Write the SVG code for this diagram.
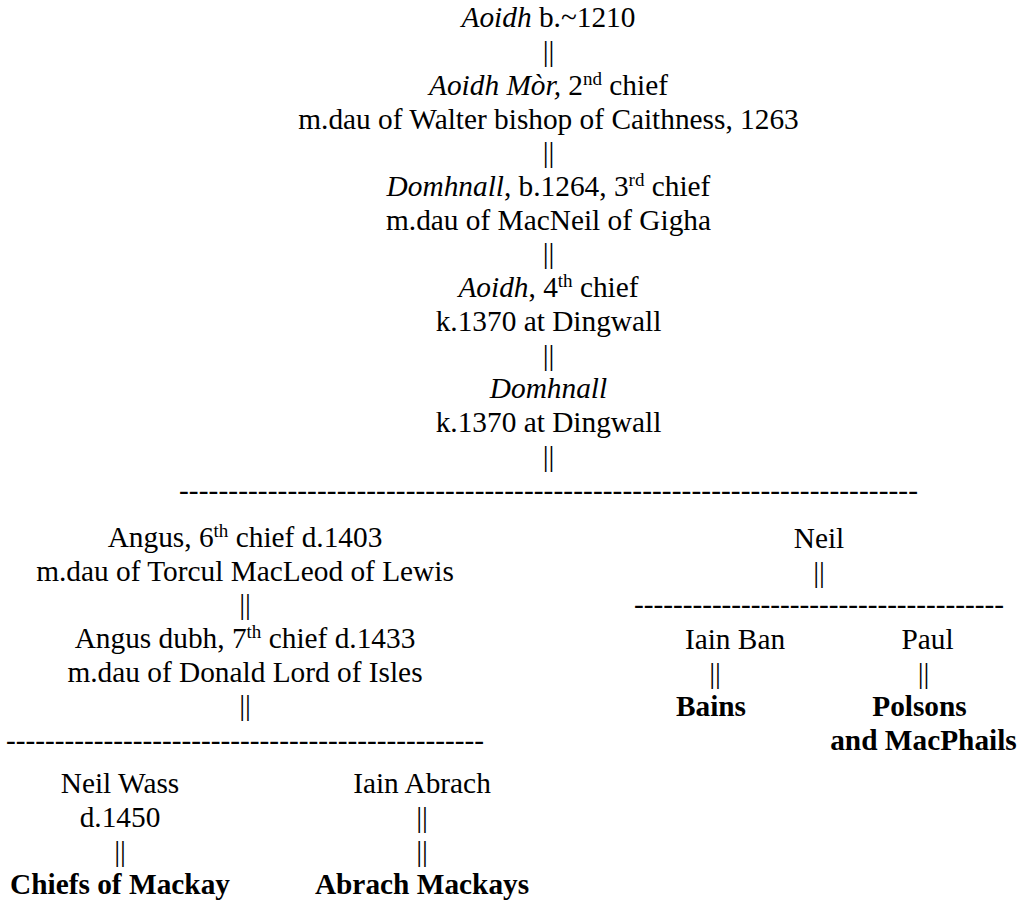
<svg xmlns="http://www.w3.org/2000/svg" width="1026" height="901" viewBox="0 0 1026 901">
<style>
text{font-family:'Liberation Serif','Times New Roman',Times,'DejaVu Serif',serif;font-size:29.33px;fill:#000;}
.c{text-anchor:middle;}
.i{font-style:italic;}
.b{font-weight:bold;}
.sup{font-size:19px;}
.dash{text-anchor:start;}
</style>
<rect width="1026" height="901" fill="#fff"/>
<g id="connectors" font-family="Liberation Serif, serif">
<text class="c" x="548.5" y="61">||</text>
<text class="c" x="548.5" y="162.2">||</text>
<text class="c" x="548.5" y="263.4">||</text>
<text class="c" x="548.5" y="364.6">||</text>
<text class="c" x="548.5" y="465.8">||</text>
<text class="dash" x="179" y="499.5" textLength="739" lengthAdjust="spacing">---------------------------------------------------------------------------</text>
<text class="c" x="245" y="614">||</text>
<text class="c" x="245" y="715.4">||</text>
<text class="dash" x="6" y="749.5" textLength="478" lengthAdjust="spacing">-------------------------------------------------</text>
<text class="c" x="120" y="861">||</text>
<text class="c" x="422" y="827">||</text>
<text class="c" x="422" y="861">||</text>
<text class="c" x="819" y="582">||</text>
<text class="dash" x="634" y="614" textLength="370" lengthAdjust="spacing">--------------------------------------</text>
<text class="c" x="715" y="683">||</text>
<text class="c" x="923.5" y="683">||</text>
</g>
<g id="aoidh1">
<text class="c" x="548.5" y="27.3"><tspan class="i">Aoidh</tspan> b.~1210</text>
</g>
<g id="aoidh-mor">
<text class="c" x="548.5" y="94.8"><tspan class="i">Aoidh Mòr,</tspan> 2<tspan class="sup" dy="-10">nd</tspan><tspan dy="10"> chief</tspan></text>
<text class="c" x="548.5" y="128.5">m.dau of Walter bishop of Caithness, 1263</text>
</g>
<g id="domhnall1">
<text class="c" x="548.5" y="195.9"><tspan class="i">Domhnall</tspan>, b.1264, 3<tspan class="sup" dy="-10">rd</tspan><tspan dy="10"> chief</tspan></text>
<text class="c" x="548.5" y="229.7">m.dau of MacNeil of Gigha</text>
</g>
<g id="aoidh4">
<text class="c" x="548.5" y="297.1"><tspan class="i">Aoidh</tspan>, 4<tspan class="sup" dy="-10">th</tspan><tspan dy="10"> chief</tspan></text>
<text class="c" x="548.5" y="330.9">k.1370 at Dingwall</text>
</g>
<g id="domhnall2">
<text class="c i" x="548.5" y="398.3">Domhnall</text>
<text class="c" x="548.5" y="432.1">k.1370 at Dingwall</text>
</g>
<g id="angus">
<text class="c" x="245" y="547">Angus, 6<tspan class="sup" dy="-10">th</tspan><tspan dy="10"> chief d.1403</tspan></text>
<text class="c" x="245" y="580.5">m.dau of Torcul MacLeod of Lewis</text>
</g>
<g id="angus-dubh">
<text class="c" x="245" y="648">Angus dubh, 7<tspan class="sup" dy="-10">th</tspan><tspan dy="10"> chief d.1433</tspan></text>
<text class="c" x="245" y="681.7">m.dau of Donald Lord of Isles</text>
</g>
<g id="neil-wass">
<text class="c" x="120" y="793">Neil Wass</text>
<text class="c" x="120" y="827">d.1450</text>
</g>
<g id="chiefs-of-mackay">
<text class="c b" x="120" y="894">Chiefs of Mackay</text>
</g>
<g id="iain-abrach">
<text class="c" x="422" y="793">Iain Abrach</text>
</g>
<g id="abrach-mackays">
<text class="c b" x="422" y="894">Abrach Mackays</text>
</g>
<g id="neil">
<text class="c" x="819" y="548">Neil</text>
</g>
<g id="iain-ban">
<text class="c" x="735" y="649">Iain Ban</text>
</g>
<g id="paul">
<text class="c" x="927.5" y="649">Paul</text>
</g>
<g id="bains">
<text class="c b" x="711" y="716">Bains</text>
</g>
<g id="polsons">
<text class="c b" x="919.5" y="716">Polsons</text>
<text class="c b" x="923.5" y="750">and MacPhails</text>
</g>
</svg>
